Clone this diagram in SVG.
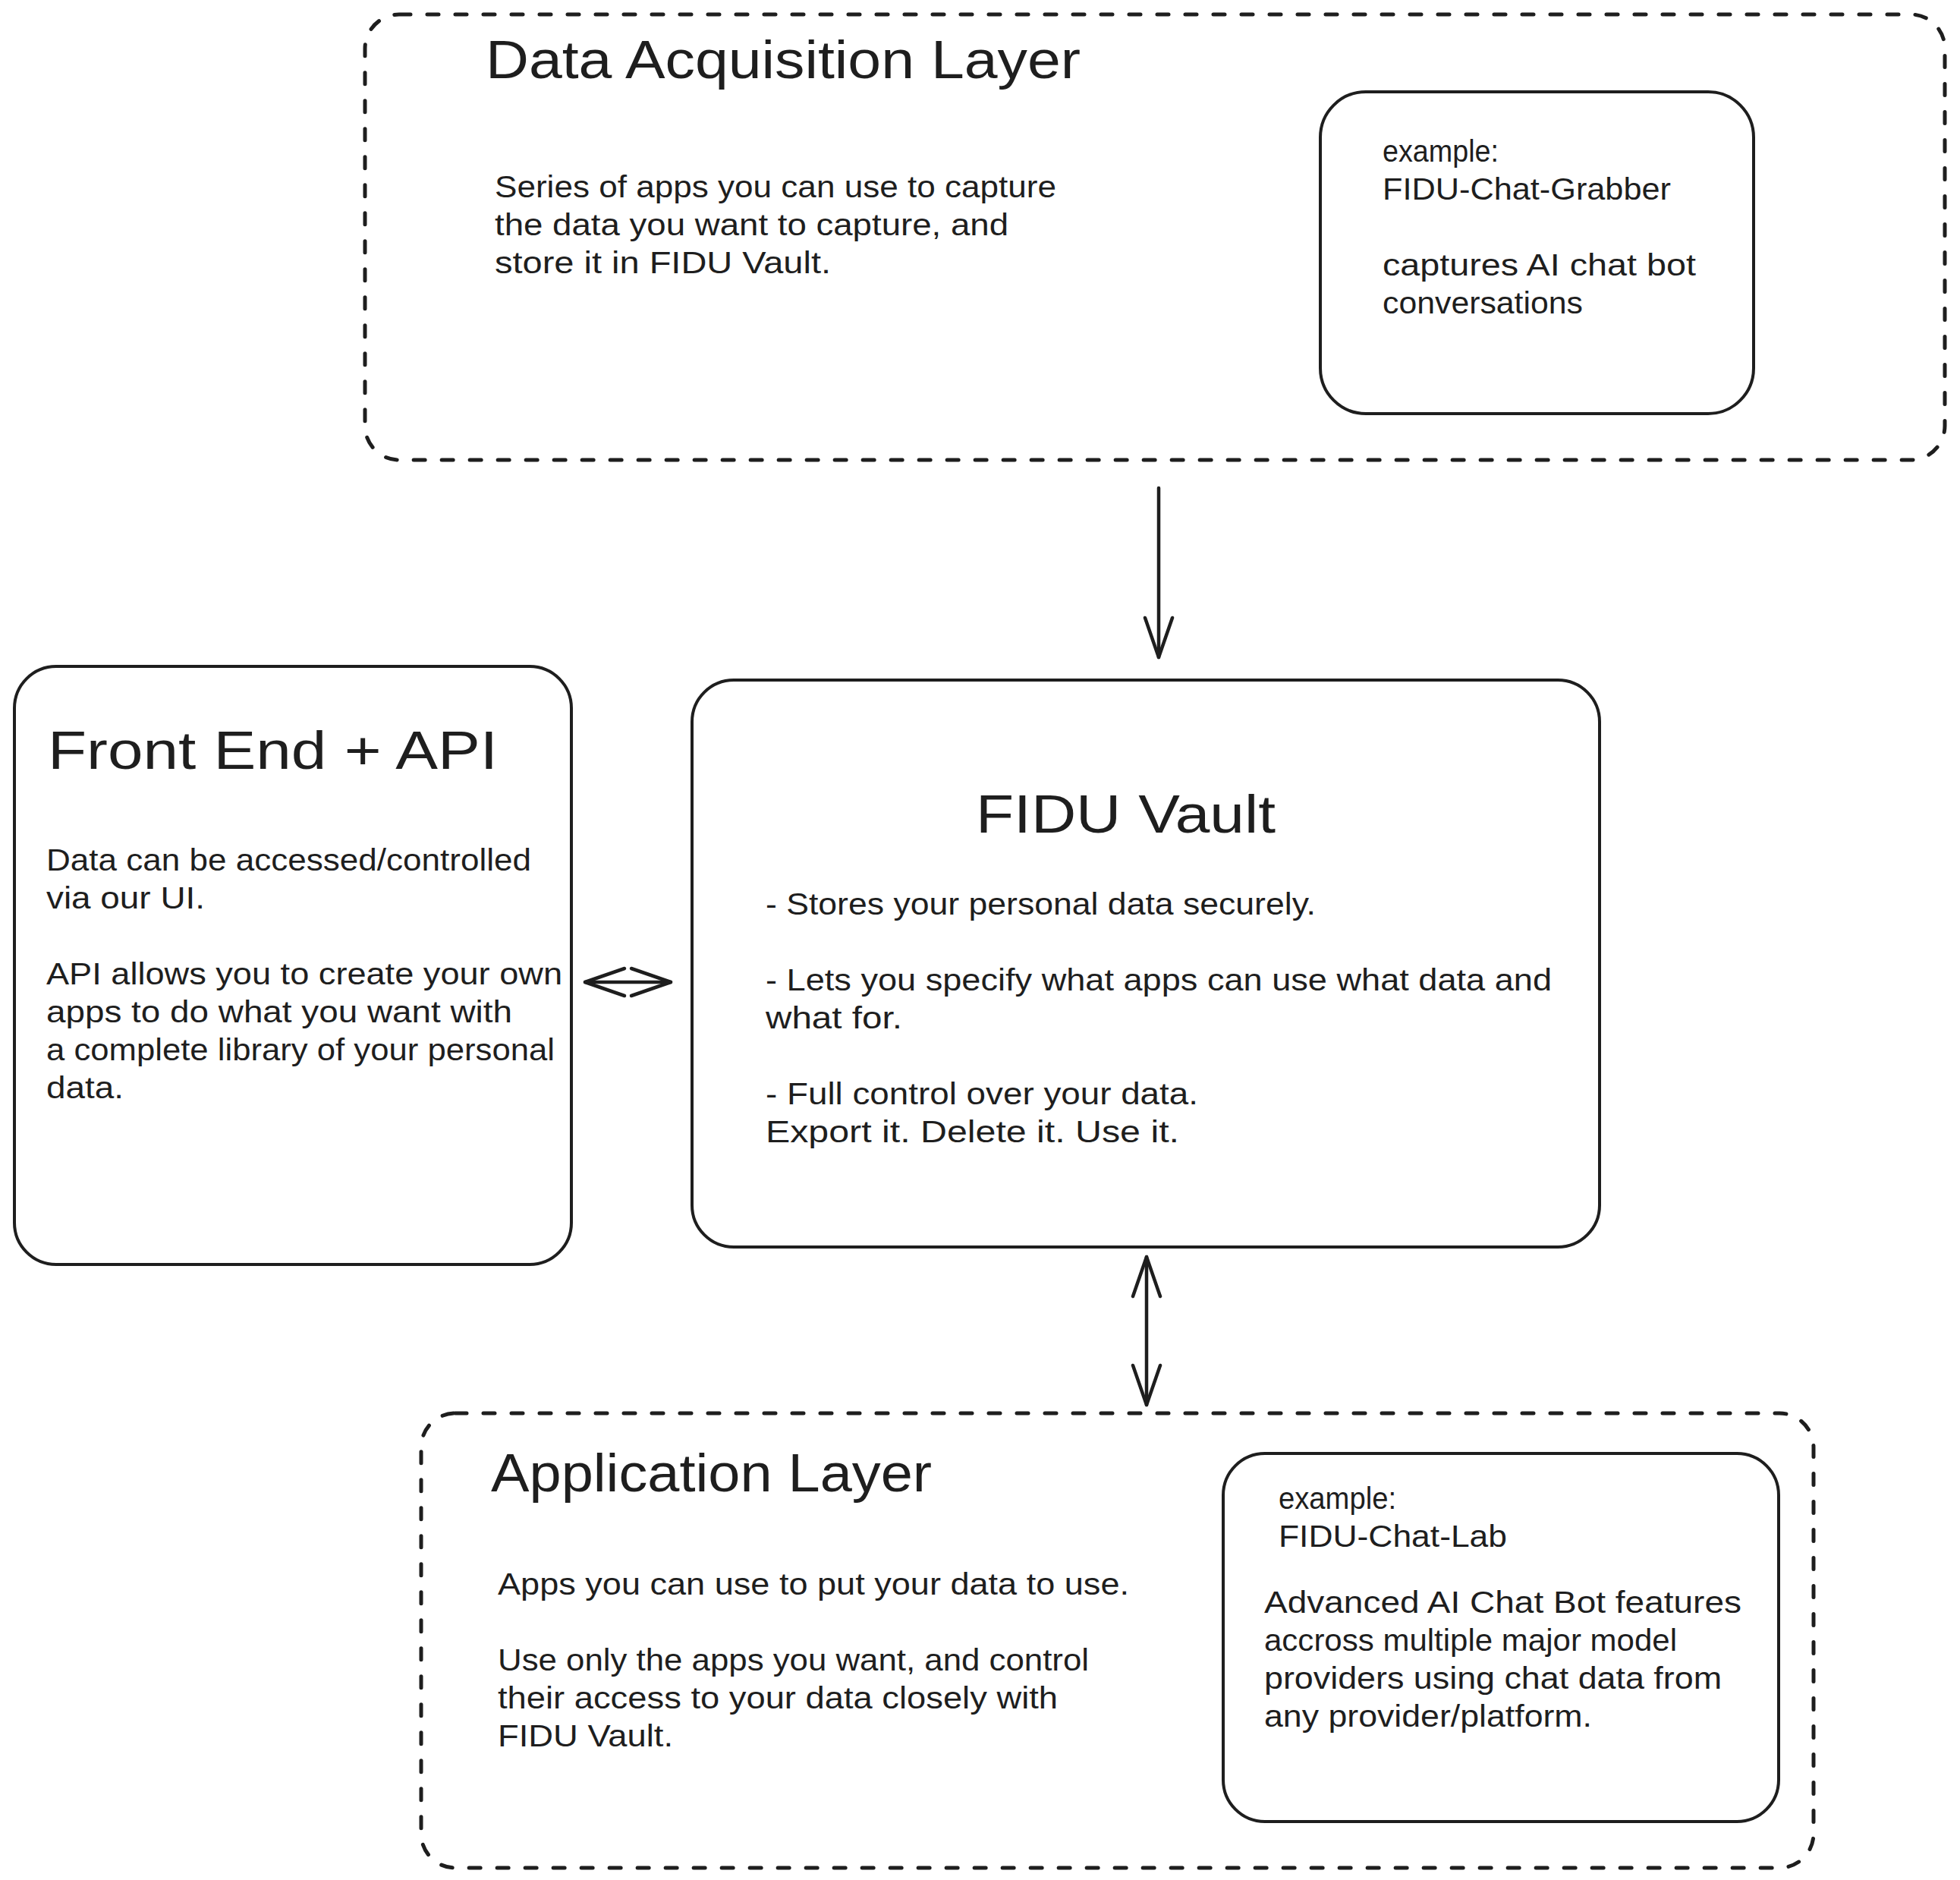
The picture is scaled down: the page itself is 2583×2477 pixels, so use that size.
<svg xmlns="http://www.w3.org/2000/svg" width="2583" height="2477" viewBox="0 0 2583 2477">
<style>
.bg{fill:#ffffff}
.dash{fill:none;stroke:#1e1e1e;stroke-width:5;stroke-dasharray:15 22;stroke-linecap:round}
.box{fill:none;stroke:#1e1e1e;stroke-width:4}
.title{font-family:"Liberation Sans","DejaVu Sans",sans-serif;font-size:70px;fill:#1e1e1e}
.body{font-family:"Liberation Sans","DejaVu Sans",sans-serif;font-size:40px;fill:#1e1e1e}
.conn{fill:none;stroke:#1e1e1e;stroke-width:4.5;stroke-linecap:round}
</style>
<defs>
<marker id="arrow" viewBox="-60 -25 70 50" refX="0" refY="0" markerWidth="70" markerHeight="50" markerUnits="userSpaceOnUse" orient="auto-start-reverse">
<path d="M-52,-18 L0,0 L-52,18" fill="none" stroke="#1e1e1e" stroke-width="4.5" stroke-linecap="round" stroke-linejoin="round"/>
</marker>
</defs>
<rect class="bg" x="0" y="0" width="2583" height="2477"/>

<g id="data-acquisition-layer">
<rect class="dash" x="481" y="19" width="2082" height="587" rx="45" ry="45"/>
<text class="title" x="640" y="103" textLength="784" lengthAdjust="spacingAndGlyphs">Data Acquisition Layer</text>
<text class="body" x="652" y="260" textLength="740" lengthAdjust="spacingAndGlyphs">Series of apps you can use to capture</text>
<text class="body" x="652" y="310" textLength="677" lengthAdjust="spacingAndGlyphs">the data you want to capture, and</text>
<text class="body" x="652" y="360" textLength="443" lengthAdjust="spacingAndGlyphs">store it in FIDU Vault.</text>
</g>

<g id="chat-grabber-example">
<rect class="box" x="1740" y="121" width="571" height="424" rx="60" ry="60"/>
<text class="body" x="1822" y="213" textLength="153" lengthAdjust="spacingAndGlyphs">example:</text>
<text class="body" x="1822" y="263" textLength="380" lengthAdjust="spacingAndGlyphs">FIDU-Chat-Grabber</text>
<text class="body" x="1822" y="363" textLength="413" lengthAdjust="spacingAndGlyphs">captures AI chat bot</text>
<text class="body" x="1822" y="413" textLength="264" lengthAdjust="spacingAndGlyphs">conversations</text>
</g>

<g id="front-end-api">
<rect class="box" x="19" y="878" width="734" height="788" rx="55" ry="55"/>
<text class="title" x="63" y="1013" textLength="593" lengthAdjust="spacingAndGlyphs">Front End + API</text>
<text class="body" x="61" y="1147" textLength="639" lengthAdjust="spacingAndGlyphs">Data can be accessed/controlled</text>
<text class="body" x="61" y="1197" textLength="209" lengthAdjust="spacingAndGlyphs">via our UI.</text>
<text class="body" x="61" y="1297" textLength="680" lengthAdjust="spacingAndGlyphs">API allows you to create your own</text>
<text class="body" x="61" y="1347" textLength="614" lengthAdjust="spacingAndGlyphs">apps to do what you want with</text>
<text class="body" x="61" y="1397" textLength="670" lengthAdjust="spacingAndGlyphs">a complete library of your personal</text>
<text class="body" x="61" y="1447" textLength="102" lengthAdjust="spacingAndGlyphs">data.</text>
</g>

<g id="fidu-vault">
<rect class="box" x="912" y="896" width="1196" height="747" rx="55" ry="55"/>
<text class="title" x="1286" y="1097" textLength="395" lengthAdjust="spacingAndGlyphs">FIDU Vault</text>
<text class="body" x="1009" y="1205" textLength="725" lengthAdjust="spacingAndGlyphs">- Stores your personal data securely.</text>
<text class="body" x="1009" y="1305" textLength="1036" lengthAdjust="spacingAndGlyphs">- Lets you specify what apps can use what data and</text>
<text class="body" x="1009" y="1355" textLength="180" lengthAdjust="spacingAndGlyphs">what for.</text>
<text class="body" x="1009" y="1455" textLength="570" lengthAdjust="spacingAndGlyphs">- Full control over your data.</text>
<text class="body" x="1009" y="1505" textLength="545" lengthAdjust="spacingAndGlyphs">Export it. Delete it. Use it.</text>
</g>

<g id="application-layer">
<rect class="dash" x="555" y="1862" width="1835" height="599" rx="45" ry="45"/>
<text class="title" x="647" y="1965" textLength="581" lengthAdjust="spacingAndGlyphs">Application Layer</text>
<text class="body" x="656" y="2101" textLength="832" lengthAdjust="spacingAndGlyphs">Apps you can use to put your data to use.</text>
<text class="body" x="656" y="2201" textLength="779" lengthAdjust="spacingAndGlyphs">Use only the apps you want, and control</text>
<text class="body" x="656" y="2251" textLength="738" lengthAdjust="spacingAndGlyphs">their access to your data closely with</text>
<text class="body" x="656" y="2301" textLength="231" lengthAdjust="spacingAndGlyphs">FIDU Vault.</text>
</g>

<g id="chat-lab-example">
<rect class="box" x="1612" y="1915" width="732" height="485" rx="55" ry="55"/>
<text class="body" x="1685" y="1988" textLength="155" lengthAdjust="spacingAndGlyphs">example:</text>
<text class="body" x="1685" y="2038" textLength="301" lengthAdjust="spacingAndGlyphs">FIDU-Chat-Lab</text>
<text class="body" x="1666" y="2125" textLength="629" lengthAdjust="spacingAndGlyphs">Advanced AI Chat Bot features</text>
<text class="body" x="1666" y="2175" textLength="544" lengthAdjust="spacingAndGlyphs">accross multiple major model</text>
<text class="body" x="1666" y="2225" textLength="603" lengthAdjust="spacingAndGlyphs">providers using chat data from</text>
<text class="body" x="1666" y="2275" textLength="432" lengthAdjust="spacingAndGlyphs">any provider/platform.</text>
</g>

<g id="connectors">
<line class="conn" x1="1527" y1="643" x2="1527" y2="866" marker-end="url(#arrow)"/>
<line class="conn" x1="771" y1="1294" x2="884" y2="1294" marker-start="url(#arrow)" marker-end="url(#arrow)"/>
<line class="conn" x1="1511" y1="1656" x2="1511" y2="1851" marker-start="url(#arrow)" marker-end="url(#arrow)"/>
</g>
</svg>
